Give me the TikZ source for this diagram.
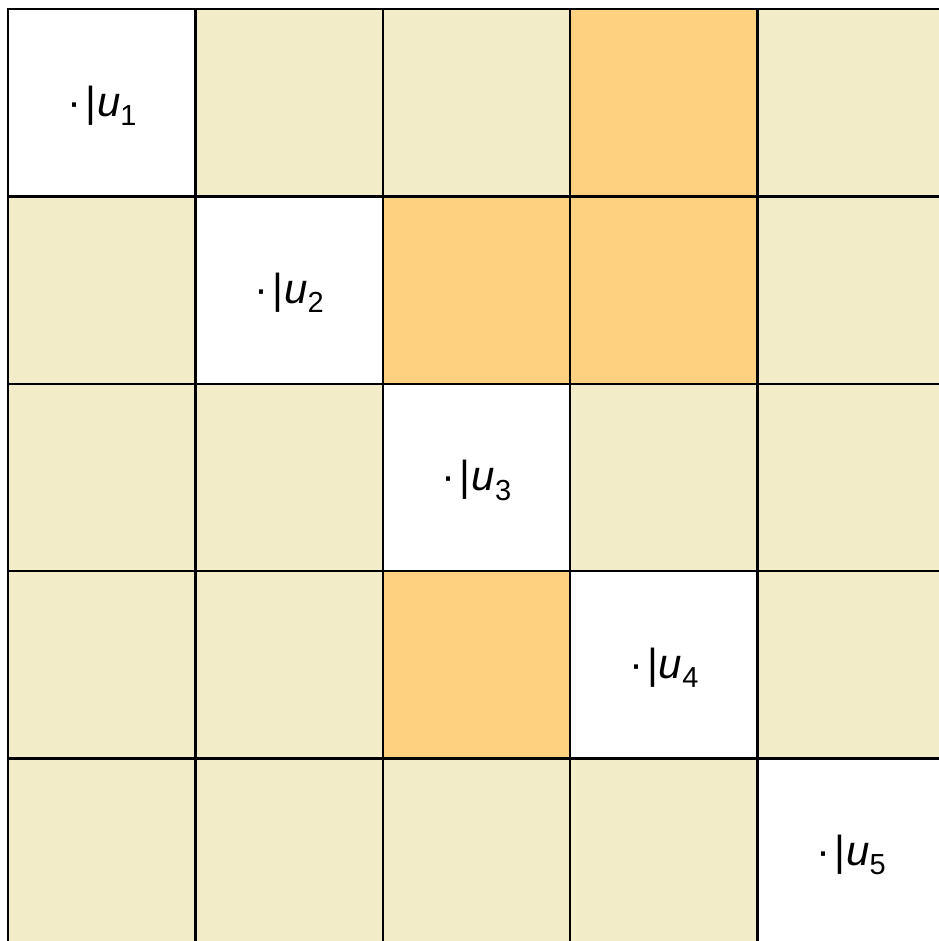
\documentclass[tikz,border=0pt]{standalone}
\usepackage{fontspec}
\setmainfont{Liberation Sans}
\definecolor{cream}{HTML}{F3ECC8}
\definecolor{amber}{HTML}{FED181}
\newcommand{\ulab}[1]{\fontsize{42}{48}\selectfont ·\hspace{0.1em}|\hspace{0.02em}\textit{u}\raisebox{-0.22em}{\fontsize{29}{32}\selectfont #1}}
\begin{document}
\begin{tikzpicture}[x=1pt,y=-1pt,
  cellbox/.style={draw=black,line width=2.4pt,minimum width=187.3pt,minimum height=187.3pt,inner sep=0pt,anchor=north west},
  plain/.style={cellbox,fill=cream},
  hot/.style={cellbox,fill=amber},
  diag/.style={cellbox,fill=white}]
\useasboundingbox (0,0) rectangle (938,941);
\foreach \r in {1,...,5}{
  \foreach \c in {1,...,5}{
    \pgfmathtruncatemacro{\isdiag}{\r==\c}
    \pgfmathtruncatemacro{\ishot}{(\r==1 && \c==4) || (\r==2 && \c==3) || (\r==2 && \c==4) || (\r==4 && \c==3)}
    \ifnum\isdiag=1
      \node[diag] (c\r\c) at ({7+(\c-1)*187.3},{8+(\r-1)*187.3}) {};
      \node at ([yshift=-3pt]c\r\c.center) {\ulab{\r}};
    \else\ifnum\ishot=1
      \node[hot] (c\r\c) at ({7+(\c-1)*187.3},{8+(\r-1)*187.3}) {};
    \else
      \node[plain] (c\r\c) at ({7+(\c-1)*187.3},{8+(\r-1)*187.3}) {};
    \fi\fi
  }
}
\end{tikzpicture}
\end{document}
